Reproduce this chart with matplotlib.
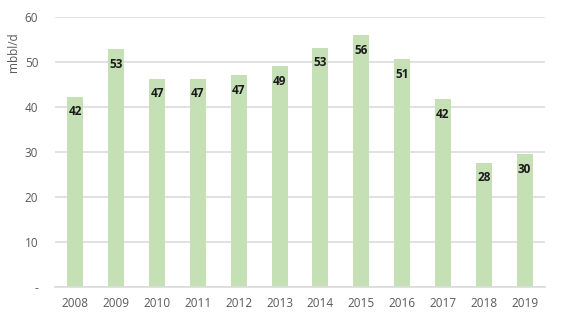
import matplotlib
matplotlib.use('Agg')
import matplotlib.pyplot as plt

years = ['2008', '2009', '2010', '2011', '2012', '2013', '2014', '2015', '2016', '2017', '2018', '2019']
values = [42.4, 52.9, 46.4, 46.4, 47.1, 49.2, 53.3, 56.0, 50.7, 41.8, 27.7, 29.6]
labels = ['42', '53', '47', '47', '47', '49', '53', '56', '51', '42', '28', '30']
yticks = [0, 10, 20, 30, 40, 50, 60]
ytick_labels = ['-', '10', '20', '30', '40', '50', '60']

plt.rcParams['font.family'] = ['Open Sans', 'DejaVu Sans']

fig = plt.figure(figsize=(5.82, 3.24), dpi=100)
ax = fig.add_axes([0.0945, 0.114, 0.842, 0.832])

x = range(len(years))
bars = ax.bar(x, values, width=0.39, color='#c5e0b4', zorder=2)
for xi, v, lab in zip(x, values, labels):
    ax.annotate(lab, (xi, v), xytext=(0, -11), textcoords='offset points',
                ha='center', va='center', fontsize=8.5, fontweight='bold', color='#1a1a1a')

ax.set_xlim(-0.5, len(years) - 0.5)
ax.set_ylim(0, 60)
ax.set_yticks(yticks)
ax.set_yticklabels(ytick_labels)
ax.set_xticks(list(x))
ax.set_xticklabels(years)
ax.grid(axis='y', color='#dcdcdc', linewidth=1.2, zorder=0)
for s in ['top', 'right', 'left']:
    ax.spines[s].set_visible(False)
ax.spines['bottom'].set_color('#dcdcdc')
ax.spines['bottom'].set_linewidth(1.2)
ax.tick_params(axis='both', length=0, labelsize=8.5, colors='#595959', pad=7)
ax.tick_params(axis='y', pad=12)
ax.set_ylabel('mbbl/d', fontsize=8.5, color='#595959')
ax.yaxis.set_label_coords(-0.072, 0.87)

fig.savefig('out.png', dpi=100)
